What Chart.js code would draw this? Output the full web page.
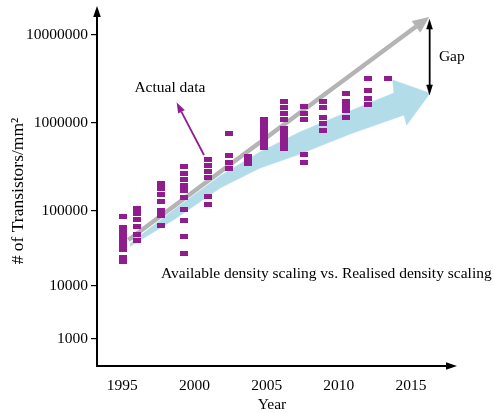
<!DOCTYPE html>
<html><head><meta charset="utf-8">
<script src="https://cdn.jsdelivr.net/npm/chart.js@4.4.0/dist/chart.umd.min.js"></script>
<style>html,body{margin:0;padding:0;background:#fff}#wrap{width:494px;height:413px;position:relative}</style>
</head><body><div id="wrap"><canvas id="c"></canvas></div>
<script>
// ---- data ----
const columnYears = [1995.05, 1996.03, 1997.68, 1999.29, 2000.93, 2002.40, 2003.73, 2004.80, 2006.21, 2007.60, 2008.91, 2010.48, 2012.05, 2013.37];
const columnValues = [
  [82500, 59800, 52100, 45400, 39600, 34500, 30100, 23900, 21000],
  [106000, 91300, 76400, 60800, 47600, 40800],
  [204000, 178700, 154000, 126900, 101300, 87150, 63020],
  [315400, 266100, 228000, 194300, 168800, 142700, 104500, 73000, 46130, 27430],
  [386800, 330600, 280400, 235300, 144600, 118500],
  [759800, 424000, 357600, 301700],
  [413000, 376800, 343900],
  [1079000, 956600, 847900, 751800, 666700, 591000, 522700],
  [1741000, 1488000, 1279000, 1087000, 866000, 779900, 702400, 632600, 569800, 513200],
  [1508000, 1279000, 1087000, 429500, 352900],
  [1751000, 1488000, 1146000, 979300, 826100],
  [2158000, 1741000, 1540000, 1365000, 1146000],
  [3195000, 2322000, 1894000, 1602000],
  [3195000]
];
const xTicks = [1995, 2000, 2005, 2010, 2015];
const yTicks = [1000, 10000, 100000, 1000000, 10000000];
// relative spacing of each decade on the (non-uniform) vertical axis
const decadeSpacing = [53, 75.3, 88, 88];

// annotation shapes in data units (year, transistors/mm²)
const availableShaft = [[1995.42, 40820], [2015.35, 12380000]];
const availableHead = [[2016.24, 15890000], [2015.64, 10690000], [2015.06, 14350000]];
const realisedOutline = [
  [1995.53, 36680], [1998.65, 104500], [2001.77, 247900], [2004.54, 464500], [2007.31, 784300],
  [2010.77, 1358000], [2013.82, 2175000], [2013.73, 3056000], [2016.31, 2158000], [2014.70, 941700],
  [2014.51, 1223000], [2010.77, 744000], [2007.31, 441000], [2004.54, 305700], [2001.77, 181100],
  [1998.65, 77580], [1995.53, 33460]
];
const gapShaft = [[2016.29, 11610000], [2016.29, 2682000]];
const gapHeadTop = [[2016.29, 14960000], [2016.08, 11610000], [2016.50, 11610000]];
const gapHeadBottom = [[2016.29, 2064000], [2016.08, 2682000], [2016.50, 2682000]];
const actualShaft = [[2000.66, 429600], [1999.09, 1339000]];
const actualHead = [[1998.77, 1688000], [1999.30, 1396000], [1998.87, 1283000]];
const textNotes = [
  {text: 'Actual data', x: 1998.30, y: 2477000, align: 'center'},
  {text: 'Available density scaling vs. Realised density scaling', x: 1997.68, y: 14420, align: 'left'},
  {text: 'Gap', x: 2016.93, y: 5580000, align: 'left'}
];

// ---- custom warped log scale ----
function warp(v) {
  const L = Math.log10(v);
  if (L <= 3) return (L - 3) * decadeSpacing[0];
  let acc = 0;
  for (let d = 0; d < decadeSpacing.length; d++) {
    const lo = 3 + d;
    if (L <= lo + 1) return acc + (L - lo) * decadeSpacing[d];
    acc += decadeSpacing[d];
  }
  return acc + (L - 7) * decadeSpacing[decadeSpacing.length - 1];
}
function unwarp(t) {
  if (t <= 0) return Math.pow(10, 3 + t / decadeSpacing[0]);
  let acc = 0;
  for (let d = 0; d < decadeSpacing.length; d++) {
    if (t <= acc + decadeSpacing[d]) return Math.pow(10, 3 + d + (t - acc) / decadeSpacing[d]);
    acc += decadeSpacing[d];
  }
  return Math.pow(10, 7 + (t - acc) / decadeSpacing[decadeSpacing.length - 1]);
}
class WarpLogScale extends Chart.Scale {
  determineDataLimits() { this.min = this.options.min; this.max = this.options.max; }
  buildTicks() { return yTicks.map(v => ({value: v})); }
  getLabelForValue(v) { return String(v); }
  getPixelForValue(v) {
    const lo = warp(this.min), hi = warp(this.max);
    return this.getPixelForDecimal((warp(v) - lo) / (hi - lo));
  }
  getValueForPixel(p) {
    const lo = warp(this.min), hi = warp(this.max);
    return unwarp(lo + this.getDecimalForPixel(p) * (hi - lo));
  }
}
WarpLogScale.id = 'warpLog';
WarpLogScale.defaults = {};
Chart.register(WarpLogScale);

// ---- marks ----
const PURPLE = '#8f1d8e', BLUE = '#b2dce8', GRAY = '#b4b4b4';
const sq = document.createElement('canvas');
sq.width = 8; sq.height = 5;
{ const g = sq.getContext('2d'); g.fillStyle = PURPLE; g.fillRect(0, 0, 8, 5); }

const squarePoints = [];
columnYears.forEach((yr, i) => columnValues[i].forEach(v => squarePoints.push({x: yr, y: v})));

const toXY = arr => arr.map(([x, y]) => ({x, y}));
function lineDs(points, color, width) {
  return {type: 'line', data: toXY(points), borderColor: color, backgroundColor: color, borderWidth: width,
    pointRadius: 0, tension: 0, fill: false, clip: false, borderCapStyle: 'butt'};
}
function shapeDs(points, color) {
  return {type: 'line', data: toXY(points), borderColor: color, backgroundColor: color, borderWidth: 0.6,
    pointRadius: 0, tension: 0, fill: 'shape', clip: false};
}

const FONT = '"Liberation Serif", "Times New Roman", serif';
const crisp = {
  id: 'crisp',
  beforeDatasetsDraw(chart) { chart.ctx.imageSmoothingEnabled = false; },
  afterDatasetsDraw(chart) { chart.ctx.imageSmoothingEnabled = true; }
};
const decor = {
  id: 'decor',
  afterDraw(chart) {
    const {ctx, chartArea: a, scales: {x, y}} = chart;
    ctx.save();
    ctx.fillStyle = '#000';
    ctx.beginPath(); ctx.moveTo(a.left, a.top - 10); ctx.lineTo(a.left - 3.8, a.top + 1); ctx.lineTo(a.left + 3.8, a.top + 1); ctx.closePath(); ctx.fill();
    ctx.beginPath(); ctx.moveTo(a.right + 10, a.bottom); ctx.lineTo(a.right - 1, a.bottom - 3.8); ctx.lineTo(a.right - 1, a.bottom + 3.8); ctx.closePath(); ctx.fill();
    ctx.font = '15.5px ' + FONT;
    ctx.textBaseline = 'middle';
    for (const t of textNotes) {
      ctx.textAlign = t.align;
      ctx.fillText(t.text, x.getPixelForValue(t.x), y.getPixelForValue(t.y));
    }
    ctx.restore();
  }
};

new Chart(document.getElementById('c'), {
  type: 'scatter',
  data: {
    datasets: [
      {type: 'scatter', data: squarePoints, pointStyle: sq, pointRadius: 4, showLine: false},
      lineDs(actualShaft, PURPLE, 1.8),
      shapeDs(actualHead, PURPLE),
      lineDs(gapShaft, '#000', 1.8),
      shapeDs(gapHeadTop, '#000'),
      shapeDs(gapHeadBottom, '#000'),
      shapeDs(availableHead, GRAY),
      lineDs(availableShaft, GRAY, 4.5),
      shapeDs(realisedOutline, BLUE)
    ]
  },
  options: {
    responsive: true, maintainAspectRatio: false, animation: false,
    layout: {padding: {top: 16, right: 47, left: 0, bottom: 0}},
    plugins: {legend: {display: false}, tooltip: {enabled: false}},
    scales: {
      x: {
        type: 'linear', min: 1993.25, max: 2017.49,
        afterBuildTicks: s => { s.ticks = xTicks.map(v => ({value: v})); },
        afterFit: s => { s.height = 47; },
        grid: {display: false},
        border: {display: true, color: '#000', width: 2},
        ticks: {color: '#000', font: {family: FONT, size: 15.5}, padding: 3, autoSkip: false, maxRotation: 0, callback: v => String(v)},
        title: {display: true, text: 'Year', color: '#000', font: {family: FONT, size: 15.5}, padding: {top: 0, bottom: -1}}
      },
      y: {
        type: 'warpLog', position: 'left', min: 309.5, max: 16310000,
        afterFit: s => { s.width = 97; },
        grid: {drawOnChartArea: false, drawTicks: true, tickLength: 6, color: '#000', lineWidth: 1.2},
        border: {display: true, color: '#000', width: 2},
        ticks: {color: '#000', font: {family: FONT, size: 15.5}, padding: 3, autoSkip: false},
        title: {display: true, text: '# of Transistors/mm²', color: '#000', font: {family: FONT, size: 17.5}, padding: {top: 8, bottom: 0}}
      }
    }
  },
  plugins: [crisp, decor]
});
</script>
</body></html>
